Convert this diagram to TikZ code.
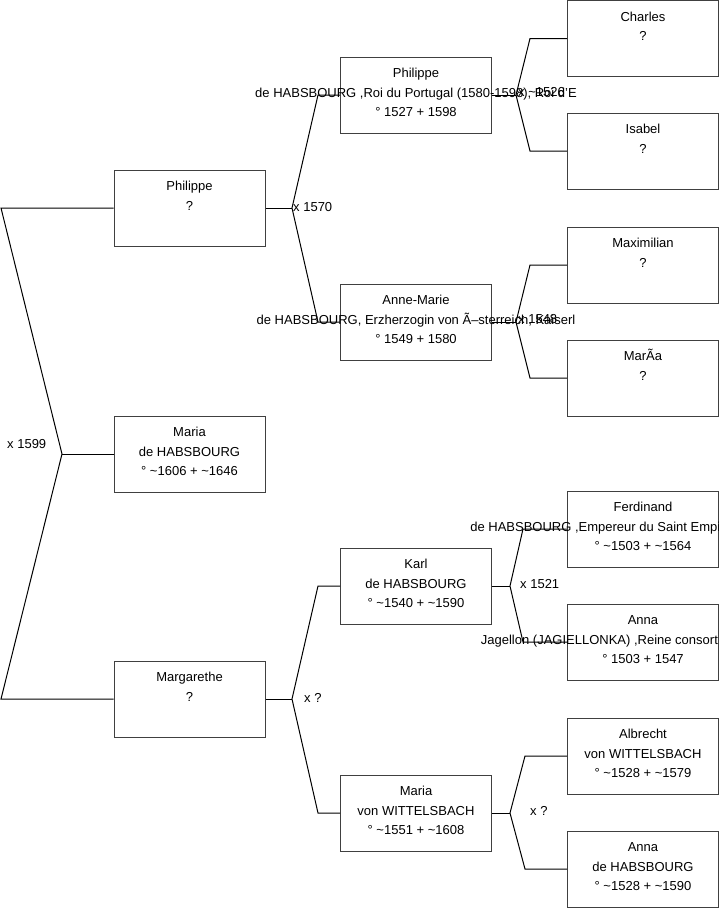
\documentclass[tikz,border=0pt]{standalone}
\usepackage{fontspec}
\setmainfont{Liberation Sans}
\definecolor{boxc}{RGB}{64,64,64}
\begin{document}
\begin{tikzpicture}[x=1pt,y=-1pt,
  box/.style={draw=boxc, line width=1pt, minimum width=151pt, minimum height=76pt, inner sep=0pt},
  txt/.style={anchor=north, inner sep=0pt, align=center, font=\fontsize{13}{19.5}\selectfont},
  lbl/.style={anchor=west, inner sep=0pt, font=\fontsize{13}{19.5}\selectfont},
  conn/.style={draw=black, line width=1pt}]
\useasboundingbox (0,0) rectangle (719,908);
\clip (0,0) rectangle (719,908);
% boxes
\node[box] (ph1) at (189.5,208) {};
\node[box] (mar) at (189.5,454) {};
\node[box] (mrg) at (189.5,699) {};
\node[box] (ph2) at (416,95) {};
\node[box] (ann) at (416,322) {};
\node[box] (karl) at (416,586) {};
\node[box] (mvw) at (416,813) {};
\node[box] (cha) at (643,38.5) {};
\node[box] (isa) at (643,151) {};
\node[box] (max) at (643,265) {};
\node[box] (mria) at (643,378) {};
\node[box] (fer) at (643,529) {};
\node[box] (anna1) at (643,642) {};
\node[box] (alb) at (643,756) {};
\node[box] (anna2) at (643,869) {};
% texts
\node[txt] (ph1t) at ([yshift=-7.35pt]ph1.north) {\strut Philippe\\?};
\node[txt] (mart) at ([yshift=-7.35pt]mar.north) {\strut Maria\\de HABSBOURG\\° \textasciitilde1606 + \textasciitilde1646};
\node[txt] (mrgt) at ([yshift=-7.35pt]mrg.north) {\strut Margarethe\\?};
\node[txt] (ph2t) at ([yshift=-7.35pt]ph2.north) {\strut Philippe\\de HABSBOURG ,Roi du Portugal (1580-1598), Roi d'E\\° 1527 + 1598};
\node[txt] (annt) at ([yshift=-7.35pt]ann.north) {\strut Anne-Marie\\de HABSBOURG, Erzherzogin von Ã–sterreich, Kaiserl\\° 1549 + 1580};
\node[txt] (karlt) at ([yshift=-7.35pt]karl.north) {\strut Karl\\de HABSBOURG\\° \textasciitilde1540 + \textasciitilde1590};
\node[txt] (mvwt) at ([yshift=-7.35pt]mvw.north) {\strut Maria\\von WITTELSBACH\\° \textasciitilde1551 + \textasciitilde1608};
\node[txt] (chat) at ([yshift=-7.35pt]cha.north) {\strut Charles\\?};
\node[txt] (isat) at ([yshift=-7.35pt]isa.north) {\strut Isabel\\?};
\node[txt] (maxt) at ([yshift=-7.35pt]max.north) {\strut Maximilian\\?};
\node[txt] (mriat) at ([yshift=-7.35pt]mria.north) {\strut MarÃa\\?};
\node[txt] (fert) at ([yshift=-7.35pt]fer.north) {\strut Ferdinand\\de HABSBOURG ,Empereur du Saint Empire romain germa\\° \textasciitilde1503 + \textasciitilde1564};
\node[txt] (anna1t) at ([yshift=-7.35pt]anna1.north) {\strut Anna\\Jagellon (JAGIELLONKA) ,Reine consort de BohÃªme e\\° 1503 + 1547};
\node[txt] (albt) at ([yshift=-7.35pt]alb.north) {\strut Albrecht\\von WITTELSBACH\\° \textasciitilde1528 + \textasciitilde1579};
\node[txt] (anna2t) at ([yshift=-7.35pt]anna2.north) {\strut Anna\\de HABSBOURG\\° \textasciitilde1528 + \textasciitilde1590};
% junctions
\coordinate (j0) at (62,454);
\coordinate (j0a) at (1,208);
\coordinate (j0b) at (1,699);
\coordinate (j1) at (292,208);
\coordinate (j1a) at (318,95);
\coordinate (j1b) at (318,322);
\coordinate (j2) at (292,699);
\coordinate (j2a) at (318,586);
\coordinate (j2b) at (318,813);
\coordinate (j3) at (516,95);
\coordinate (j3a) at (530,38.5);
\coordinate (j3b) at (530,151);
\coordinate (j4) at (516,322);
\coordinate (j4a) at (530,265);
\coordinate (j4b) at (530,378);
\coordinate (j5) at (510,586);
\coordinate (j5a) at (523,529);
\coordinate (j5b) at (523,642);
\coordinate (j6) at (510,813);
\coordinate (j6a) at (525,756);
\coordinate (j6b) at (525,869);
% connectors
\draw[conn] (mar.west) -- (j0);
\draw[conn] (ph1.west) -- (j0a) -- (j0) -- (j0b) -- (mrg.west);
\draw[conn] (ph1.east) -- (j1);
\draw[conn] (ph2.west) -- (j1a) -- (j1) -- (j1b) -- (ann.west);
\draw[conn] (mrg.east) -- (j2);
\draw[conn] (karl.west) -- (j2a) -- (j2) -- (j2b) -- (mvw.west);
\draw[conn] (ph2.east) -- (j3);
\draw[conn] (cha.west) -- (j3a) -- (j3) -- (j3b) -- (isa.west);
\draw[conn] (ann.east) -- (j4);
\draw[conn] (max.west) -- (j4a) -- (j4) -- (j4b) -- (mria.west);
\draw[conn] (karl.east) -- (j5);
\draw[conn] (fer.west) -- (j5a) -- (j5) -- (j5b) -- (anna1.west);
\draw[conn] (mvw.east) -- (j6);
\draw[conn] (alb.west) -- (j6a) -- (j6) -- (j6b) -- (anna2.west);
% marriage labels
\node[lbl] (l0) at (7,444) {x 1599};
\node[lbl] (l1) at (293,207) {x 1570};
\node[lbl] (l2) at (304,698) {x ?};
\node[lbl] (l3) at (518,92) {x \textasciitilde1526};
\node[lbl] (l4) at (518,319) {x 1548};
\node[lbl] (l5) at (520,584) {x 1521};
\node[lbl] (l6) at (530,811) {x ?};
\end{tikzpicture}
\end{document}
